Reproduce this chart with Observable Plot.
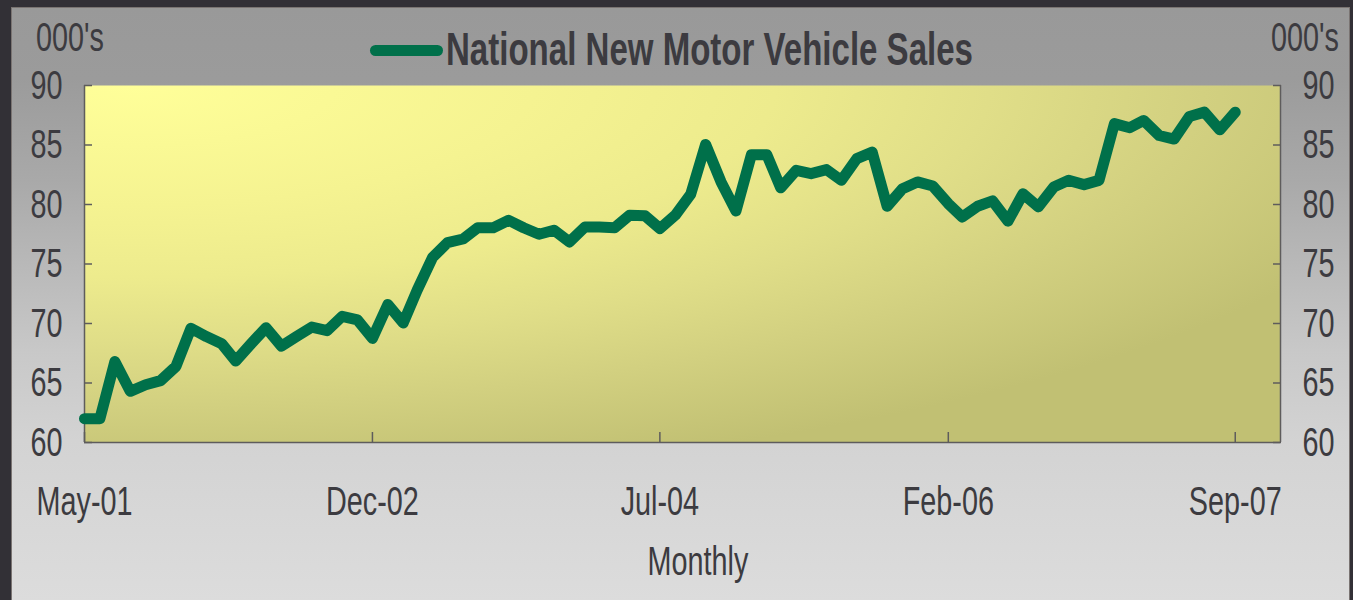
<!DOCTYPE html>
<html>
<head>
<meta charset="utf-8">
<script src="https://cdn.jsdelivr.net/npm/d3@7"></script>
<script src="https://cdn.jsdelivr.net/npm/@observablehq/plot@0.6"></script>
<style>
  html, body { margin: 0; padding: 0; width: 1353px; height: 600px; overflow: hidden; background: #323036; }
  #panel {
    position: absolute; left: 11px; top: 7px; width: 1339px; height: 600px; box-sizing: border-box;
    border: 1px solid #7a7472;
    background: linear-gradient(to bottom, #999999 0px, #9b9b9b 70px, #a9a9a9 173px, #b6b6b6 243px, #c8c8c8 343px, #d3d3d3 433px, #dcdcdc 593px);
  }
  #chart { position: absolute; left: 0; top: 0; }
  .lbl {
    position: absolute; font-family: "Liberation Sans", Arial, sans-serif;
    color: #3c3b40; white-space: nowrap; transform-origin: 0 0; line-height: 1;
  }
</style>
</head>
<body>
<div id="panel"></div>
<div id="chart"></div>
<script>
// ---- data ----
const seriesName = "National New Motor Vehicle Sales";
const unitLabel = "000's";
const xLabel = "Monthly";
const firstMonth = "May-01";
const lastMonth = "Sep-07";
const sales = [
  62.0, 62.0, 66.8, 64.3, 64.85, 65.2, 66.4, 69.6, 68.9, 68.3,
  66.85, 68.3, 69.65, 68.1, 68.9, 69.7, 69.4, 70.6, 70.3, 68.75,
  71.6, 70.05, 72.8, 75.55, 76.8, 77.1, 78.05, 78.05, 78.67, 78.05,
  77.5, 77.84, 76.85, 78.1, 78.1, 78.05, 79.1, 79.05, 77.98, 79.1,
  80.86, 85.05, 81.9, 79.46, 84.18, 84.18, 81.4, 82.87, 82.59, 82.93,
  82.03, 83.85, 84.4, 79.85, 81.33, 81.9, 81.55, 80.07, 78.95, 79.85,
  80.3, 78.6, 80.9, 79.8, 81.47, 82.03, 81.67, 82.03, 86.8, 86.45,
  87.06, 85.8, 85.5, 87.4, 87.76, 86.28, 87.76
];
const xTickLabels = ["May-01", "Dec-02", "Jul-04", "Feb-06", "Sep-07"];
const yTicks = [60, 65, 70, 75, 80, 85, 90];
const yDomain = [60, 90];
const xDomainEndLabel = "Dec-07";

// ---- build ----
const parseM = d3.utcParse("%b-%y");
const fmtM = d3.utcFormat("%b-%y");
const months = d3.utcMonth.range(parseM(firstMonth), d3.utcMonth.offset(parseM(lastMonth), 1));
const rows = sales.map((v, i) => ({date: months[i], value: v}));
const xTickDates = xTickLabels.map(parseM);
const xDomain = [parseM(firstMonth), parseM(xDomainEndLabel)];

const green = "#00704a";
const axisColor = "#5e5c5c";
const textColor = "#3c3b40";
const SX = 0.8, SY = 1.15;

const svg = Plot.plot({
  width: 1353, height: 600,
  marginLeft: 84, marginRight: 73, marginTop: 85, marginBottom: 158,
  style: {background: "transparent", fontFamily: "'Liberation Sans', Arial, sans-serif", fontSize: "36px", color: textColor, overflow: "visible"},
  x: {type: "utc", domain: xDomain},
  y: {domain: yDomain},
  marks: [
    Plot.frame({fill: "url(#plotbg)", stroke: "none"}),
    Plot.axisY({anchor: "left", ticks: yTicks, tickSize: -8, tickPadding: 30, label: null, stroke: axisColor, fill: textColor, strokeWidth: 1.5}),
    Plot.axisY({anchor: "right", ticks: yTicks, tickSize: -8, tickPadding: 30, label: null, stroke: axisColor, fill: textColor, strokeWidth: 1.5}),
    Plot.axisX({anchor: "bottom", ticks: xTickDates, tickFormat: fmtM, tickSize: -10, tickPadding: 53, label: null, stroke: axisColor, fill: textColor, strokeWidth: 1.5}),
    Plot.ruleX(xDomain, {stroke: axisColor, strokeWidth: 1.5}),
    Plot.ruleY([yDomain[0]], {stroke: axisColor, strokeWidth: 1.5}),
    Plot.line(rows, {x: "date", y: "value", stroke: green, strokeWidth: 11, strokeLinejoin: "round", strokeLinecap: "round"})
  ]
});

// gradient for plot area
const defs = d3.select(svg).insert("defs", ":first-child");
const rg = defs.append("radialGradient").attr("id", "plotbg").attr("cx", 0.04).attr("cy", 0).attr("fx", 0.04).attr("fy", 0).attr("r", 1.12);
[[0, "#ffff99"], [0.3, "#f5f391"], [0.48, "#edeb8d"], [0.64, "#e0de88"], [0.8, "#d2d080"], [1, "#c1c073"]]
  .forEach(([o, c]) => rg.append("stop").attr("offset", o).attr("stop-color", c));

// condensed, stretched tick labels
d3.select(svg).selectAll('g[aria-label$="tick label"] text').each(function() {
  const t = this.getAttribute("transform") || "";
  this.setAttribute("transform", t + ` scale(${SX},${SY})`);
});

document.getElementById("chart").appendChild(svg);

// HTML labels
function addLabel(text, left, top, size, extra = {}) {
  const d = document.createElement("div");
  const sx = extra.sx || SX;
  d.className = "lbl";
  d.textContent = text;
  d.style.left = left + "px";
  d.style.top = top + "px";
  d.style.fontSize = size + "px";
  if (extra.center) {
    d.style.transformOrigin = "50% 0";
    d.style.transform = `translateX(-50%) scale(${sx},${SY})`;
  } else {
    d.style.transform = `scale(${sx},${SY})`;
  }
  if (extra.bold) d.style.fontWeight = "bold";
  document.body.appendChild(d);
  return d;
}
addLabel(unitLabel, 35.5, 15.6, 36);
addLabel(unitLabel, 1270.5, 15.6, 36);
addLabel(seriesName, 446, 26, 40, {bold: true, sx: 0.826});
addLabel(xLabel, 698, 539.6, 36, {center: true});

// legend swatch
const sw = document.createElement("div");
Object.assign(sw.style, {position: "absolute", left: "370px", top: "44.5px", width: "73px", height: "11px", borderRadius: "5.5px", background: green});
document.body.appendChild(sw);
</script>
</body>
</html>
